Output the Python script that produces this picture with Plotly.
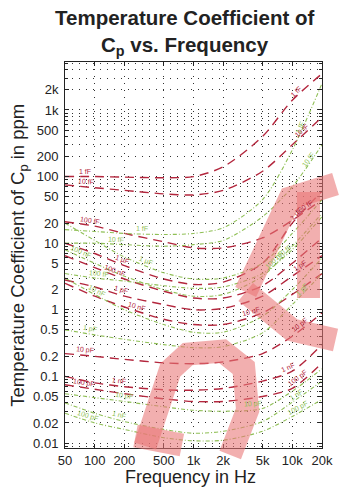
import numpy as np
import plotly.graph_objects as go

# ---------------- data ----------------
freq = [50, 100, 200, 500, 1000, 2000, 5000, 10000, 20000]

# red dashed family (ppm)
red_1fF   = [100, 100, 98, 96, 100, 140, 400, 1400, 3500]
red_10fF  = [75, 68, 62, 55, 53, 62, 120, 300, 780]
red_100fF = [21, 18, 14, 10.5, 8.5, 8.5, 12, 22, 45]
red_1uF   = [10, 7, 4.6, 2.9, 2.4, 2.6, 5, 20, 60]
red_100nF = [6.5, 4.3, 2.9, 1.9, 1.5, 1.5, 2.3, 5, 12]
red_1pF   = [2.8, 2.2, 1.6, 1.2, 1.0, 1.05, 1.6, 3.2, 6.5]
red_10nF  = [2.5, 1.6, 1.1, 0.72, 0.6, 0.6, 0.9, 1.7, 3.5]
red_10pF  = [0.22, 0.2, 0.18, 0.16, 0.155, 0.165, 0.22, 0.4, 0.9]
red_1nF   = [0.1, 0.08, 0.07, 0.063, 0.062, 0.066, 0.085, 0.12, 0.3]
red_100pF = [0.075, 0.064, 0.055, 0.046, 0.042, 0.042, 0.05, 0.066, 0.16]

# green dotted family (ppm)
grn_1fF   = [16, 15, 14, 13.5, 14, 17, 45, 250, 2500]
grn_10fF  = [10, 10, 9.5, 9, 9.5, 11, 25, 70, 300]
grn_1uF   = [20, 11, 6.2, 3.6, 2.9, 3.0, 5, 14, 45]
grn_100nF = [8, 5, 3.2, 2.0, 1.6, 1.7, 3.2, 9, 28]
grn_100fF = [3.5, 3.0, 2.7, 2.3, 2.1, 2.2, 3.5, 8, 25]
grn_10nF  = [3.0, 1.7, 1.0, 0.6, 0.46, 0.46, 0.8, 2.0, 6]
grn_1pF   = [0.5, 0.42, 0.36, 0.3, 0.27, 0.28, 0.45, 1.2, 3.5]
grn_10pF  = [0.055, 0.048, 0.042, 0.035, 0.031, 0.03, 0.033, 0.06, 0.13]
grn_1nF   = [0.04, 0.028, 0.021, 0.016, 0.014, 0.015, 0.021, 0.041, 0.085]
grn_100pF = [0.028, 0.02, 0.016, 0.012, 0.0108, 0.011, 0.015, 0.025, 0.045]

x_tickvals = [50, 100, 200, 500, 1000, 2000, 5000, 10000, 20000]
x_ticktext = ["50", "100", "200", "500", "1k", "2k", "5k", "10k", "20k"]
y_tickvals = [0.01, 0.02, 0.05, 0.1, 0.2, 0.5, 1, 2, 5, 10, 20, 50, 100, 200, 500, 1000, 2000]
y_ticktext = ["0.01", "0.02", "0.05", "0.1", "0.2", "0.5", "1", "2", "5", "10", "20", "50",
              "100", "200", "500", "1k", "2k"]

# (name, values, label freqs)
red_series = [
    ("1 fF", red_1fF, [80, 11000]),
    ("10 fF", red_10fF, [82, 12500]),
    ("100 fF", red_100fF, [90, 13000]),
    ("1 µF", red_1uF, [190, 11000]),
    ("100 nF", red_100nF, [160]),
    ("1 pF", red_1pF, [185, 12000]),
    ("10 nF", red_10nF, [270, 3800]),
    ("10 pF", red_10pF, [80, 12000]),
    ("1 nF", red_1nF, [175, 9000]),
    ("100 pF", red_100pF, [78, 11500]),
]
green_series = [
    ("1 fF", grn_1fF, [300, 12000]),
    ("10 fF", grn_10fF, [165, 14500]),
    ("1 µF", grn_1uF, [330]),
    ("100 nF", grn_100nF, [72, 6600]),
    ("100 fF", grn_100fF, [110, 8000]),
    ("10 nF", grn_10nF, [105]),
    ("1 pF", grn_1pF, [90, 12500]),
    ("10 pF", grn_10pF, [200, 4000]),
    ("1 nF", grn_1nF, [175, 11000]),
    ("100 pF", grn_100pF, [85, 11500]),
]

RED = "#b3263d"
GREEN = "#8fbf55"
FONT = "Liberation Sans"

W, H = 345, 488
ML, MR, MT, MB = 65, 14, 62, 40
PW, PH = W - ML - MR, H - MT - MB
xr = [np.log10(50), np.log10(20000)]
yr = [-2.075, 3.72]
px_per_dec_x = PW / (xr[1] - xr[0])
px_per_dec_y = PH / (yr[1] - yr[0])

fig = go.Figure()
for name, vals, _ in red_series:
    fig.add_trace(go.Scatter(x=freq, y=vals, mode="lines", name=name, showlegend=False,
                             line=dict(color=RED, width=1.4, dash="9px,6px", shape="spline", smoothing=0.8)))
for name, vals, _ in green_series:
    fig.add_trace(go.Scatter(x=freq, y=vals, mode="lines", name=name, showlegend=False,
                             line=dict(color=GREEN, width=1.1, dash="4px,2px,1px,2px", shape="spline", smoothing=0.8)))


def label_pos(vals, f):
    lf = np.log10(freq)
    lv = np.log10(vals)
    l = np.log10(f)
    v = np.interp(l, lf, lv)
    d = 0.08
    slope = (np.interp(l + d, lf, lv) - np.interp(l - d, lf, lv)) / (2 * d)
    ang = -np.degrees(np.arctan(slope * px_per_dec_y / px_per_dec_x))
    return v, ang


annotations = []
for series, col in ((red_series, RED), (green_series, GREEN)):
    for name, vals, lfs in series:
        for f in lfs:
            lv, ang = label_pos(vals, f)
            annotations.append(dict(x=np.log10(f), y=lv, text=name, showarrow=False,
                                    textangle=ang, yshift=5,
                                    font=dict(size=7, color=col, family=FONT)))

# titles
annotations.append(dict(xref="paper", yref="paper", x=0.466, xanchor="center", y=1.0, yshift=45,
                        yanchor="middle", text="<b>Temperature Coefficient of</b>", showarrow=False,
                        font=dict(size=20.5, color="#222", family=FONT)))
annotations.append(dict(xref="paper", yref="paper", x=0.466, xanchor="center", y=1.0, yshift=16,
                        yanchor="middle", text="<b>C<sub>p</sub> vs. Frequency</b>", showarrow=False,
                        font=dict(size=20.5, color="#222", family=FONT)))
annotations.append(dict(xref="paper", yref="paper", x=-0.18, xanchor="center", y=0.5,
                        yanchor="middle", textangle=-90,
                        text="Temperature Coefficient of C<sub>p</sub> in ppm", showarrow=False,
                        font=dict(size=18.5, color="#222", family=FONT)))
annotations.append(dict(xref="paper", yref="paper", x=0.49, xanchor="center", y=0, yshift=-29,
                        yanchor="middle", text="Frequency in Hz", showarrow=False,
                        font=dict(size=18, color="#222", family=FONT)))

# pink watermark (decoration), page-pixel centerlines converted to paper units
pink_lines = [
    [(138, 436), (186, 445)],
    [(148, 446), (174, 370), (192, 354), (228, 351), (250, 368), (254, 410), (236, 455)],
    [(252, 292), (298, 198), (345, 184)],
    [(252, 292), (300, 330), (345, 340)],
    [(317, 192), (317, 298)],
]
shapes = []
for pl in pink_lines:
    path = " ".join(("M" if i == 0 else "L") + f" {(x - ML) / PW:.4f},{(H - MB - y) / PH:.4f}"
                    for i, (x, y) in enumerate(pl))
    shapes.append(dict(type="path", xref="paper", yref="paper", layer="above",
                       line=dict(color="rgba(232,118,118,0.58)", width=23), path=path))

axis_common = dict(showline=True, linecolor="#222", linewidth=1, mirror="allticks",
                   ticks="inside", ticklen=4, tickcolor="#222",
                   showgrid=True, gridcolor="#333", gridwidth=1, griddash="1px,6px",
                   zeroline=False, tickfont=dict(size=13, color="#222", family=FONT))

fig.update_layout(
    width=W, height=H, margin=dict(l=ML, r=MR, t=MT, b=MB),
    paper_bgcolor="white", plot_bgcolor="white",
    xaxis=dict(type="log", range=xr, tickvals=x_tickvals, ticktext=x_ticktext, **axis_common),
    yaxis=dict(type="log", range=yr, tickvals=y_tickvals, ticktext=y_ticktext,
               minor=dict(dtick="D1", ticks="inside", ticklen=3, tickcolor="#222", showgrid=True,
                          gridcolor="#333", gridwidth=1, griddash="1px,6px"),
               **axis_common),
    annotations=annotations, shapes=shapes,
)
fig.update_xaxes(ticklabelstandoff=0)
fig.update_yaxes(ticklabelstandoff=3)
fig.write_html("out.html")
